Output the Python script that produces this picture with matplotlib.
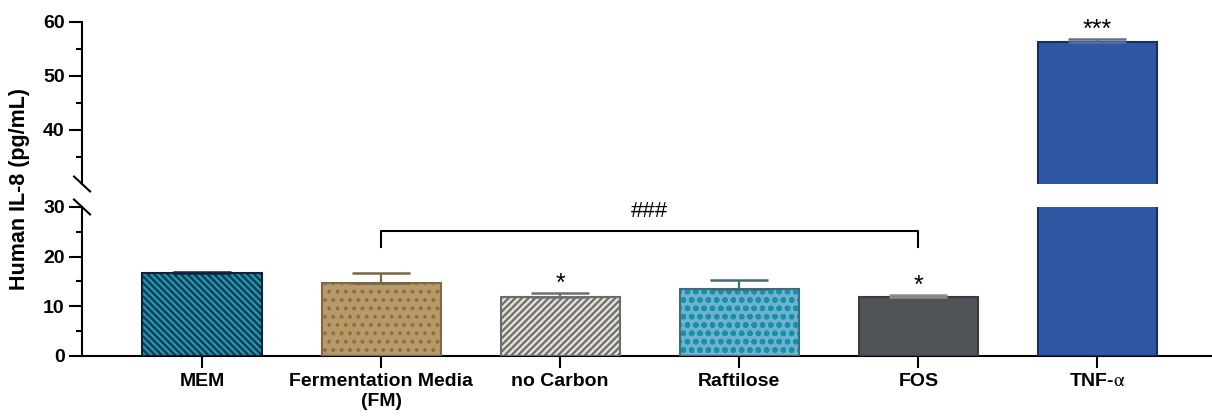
import matplotlib.pyplot as plt
import numpy as np

plt.rcParams['font.family'] = ['Liberation Sans', 'DejaVu Sans']
plt.rcParams['mathtext.fontset'] = 'stix'
plt.rcParams['hatch.linewidth'] = 1.6

groups = ['MEM', 'Fermentation Media\n(FM)', 'no Carbon', 'Raftilose', 'FOS', r'TNF-$\mathrm{\alpha}$']
means = [16.7, 14.7, 11.9, 13.5, 11.9, 56.35]
sems = [0.2, 2.1, 0.7, 1.7, 0.3, 0.45]
stars = ['', '', '*', '', '*', '***']

fills = ['#1897b2', '#b59a6c', '#e4e0d4', '#6db3cf', '#505357', '#2e58a3']
hatch_colors = ['#1c3448', '#946f35', '#6e6e6e', '#1a8fa8', '#505357', '#2e58a3']
hatches = ['\\' * 5, '..', '/' * 5, 'oo', None, None]
edges = ['#0f2340', '#7d6a48', '#6b6b6b', '#3e6c78', '#3a3c3f', '#1c2e5c']
err_colors = ['#0f2340', '#7a6540', '#707070', '#3e6c78', '#8c8c8c', '#5a6f95']

fz = 14

fig = plt.figure(figsize=(12.12, 4.19), dpi=100)
ax_hi = fig.add_axes([0.0677, 0.5609, 0.9323, 0.3866])
ax_lo = fig.add_axes([0.0677, 0.1504, 0.9323, 0.3556])

x = np.arange(len(groups))
w = 0.665
for ax in (ax_lo, ax_hi):
    for i in range(len(groups)):
        # fill + hatch first, outline drawn on top in its own colour
        ax.bar(x[i], means[i], width=w, color=fills[i], hatch=hatches[i],
               edgecolor=hatch_colors[i], linewidth=0, zorder=2)
        ax.bar(x[i], means[i], width=w, fill=False, edgecolor=edges[i],
               linewidth=1.5, zorder=3)
        ax.errorbar(x[i], means[i], yerr=[[0], [sems[i]]], fmt='none',
                    ecolor=err_colors[i], elinewidth=1.6, capsize=21,
                    capthick=1.8, zorder=4)
    ax.set_xlim(-0.67, 5.64)
    for s in ('top', 'right'):
        ax.spines[s].set_visible(False)
    for s in ('left', 'bottom'):
        ax.spines[s].set_linewidth(1.5)
    ax.tick_params(axis='y', which='major', length=9.5, width=1.5, pad=3,
                   labelsize=fz)
    ax.tick_params(axis='y', which='minor', length=4.5, width=1.5)

ax_lo.set_ylim(0, 30)
ax_lo.set_yticks([0, 10, 20, 30])
ax_lo.set_yticks([5, 15, 25], minor=True)
ax_lo.set_xticks(x)
ax_lo.set_xticklabels(groups, fontsize=14, fontweight='bold')
ax_lo.tick_params(axis='x', length=8.5, width=1.5, pad=4)

ax_hi.set_ylim(30, 60)
ax_hi.set_yticks([40, 50, 60])
ax_hi.set_yticks([35, 45, 55], minor=True)
ax_hi.spines['bottom'].set_visible(False)
ax_hi.set_xticks([])

for ax in (ax_lo, ax_hi):
    for lab in ax.get_yticklabels():
        lab.set_fontweight('bold')

# axis break marks
d = 0.0071
ax_hi.plot([-d, d], [0.046, -0.046], transform=ax_hi.transAxes, color='k',
           lw=1.5, clip_on=False)
ax_lo.plot([-d, d], [1.05, 0.95], transform=ax_lo.transAxes, color='k',
           lw=1.5, clip_on=False)

# significance stars
for i in range(len(groups)):
    if not stars[i]:
        continue
    top = means[i] + sems[i]
    ax = ax_hi if top > 30 else ax_lo
    ax.annotate(stars[i], (x[i], top), xytext=(0, 2), textcoords='offset points',
                ha='center', va='baseline', fontsize=18)

# FM vs FOS bracket
ax_lo.plot([1, 1, 4, 4], [22, 25.2, 25.2, 22], color='k', lw=1.5, zorder=5)
ax_lo.text(2.5, 28.0, '###', ha='center', va='baseline', fontsize=16)

fig.text(20 / 1212, 0.548, 'Human IL-8 (pg/mL)', rotation=90, ha='center',
         va='center', fontsize=15.5, fontweight='bold')

plt.savefig('out.png', dpi=100)
plt.close()
